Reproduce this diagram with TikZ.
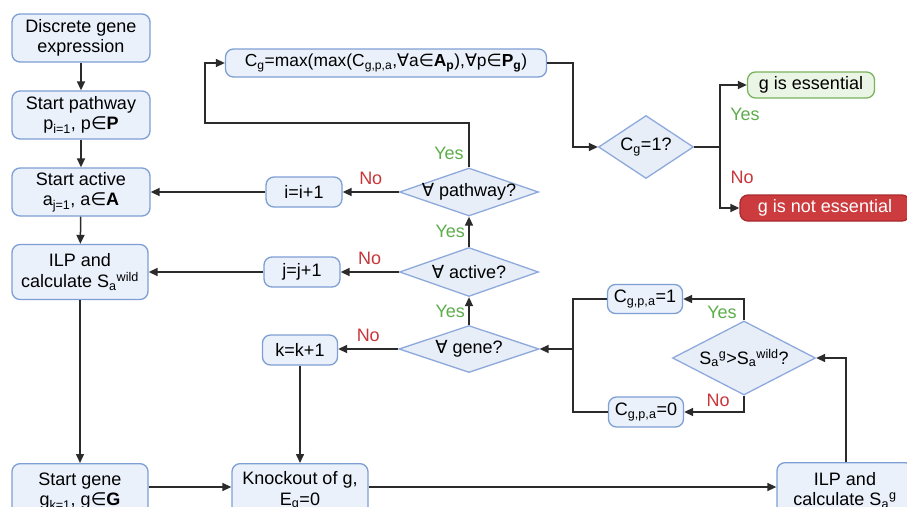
\documentclass[tikz,border=0pt]{standalone}
\usepackage{fontspec}
\setmainfont{Liberation Sans}
\newfontfamily\symf{DejaVu Sans}
\usetikzlibrary{arrows.meta,shapes.geometric,positioning}
\definecolor{boxfill}{HTML}{EAF1FB}
\definecolor{boxline}{HTML}{7E9FD4}
\definecolor{diafill}{HTML}{E7EEF8}
\definecolor{dialine}{HTML}{8EA9DB}
\definecolor{gfill}{HTML}{EBF5E5}
\definecolor{gline}{HTML}{79B35C}
\definecolor{rfill}{HTML}{CC3B3D}
\definecolor{rline}{HTML}{A82A2C}
\definecolor{yescol}{HTML}{5DAE4B}
\definecolor{nocol}{HTML}{C9363A}
\definecolor{linecol}{HTML}{2B2B2B}
\newcommand{\ele}{{\symf ∈}}
\newcommand{\fa}{{\symf ∀}}
\tikzset{
  every node/.style={font=\fontsize{18pt}{20.5pt}\selectfont, text=black},
  box/.style={draw=boxline, fill=boxfill, line width=1.3pt, rounded corners=8pt, align=center, inner sep=0pt},
  dia/.style={draw=dialine, fill=diafill, line width=1.3pt, diamond, inner sep=0pt},
  conn/.style={draw=linecol, line width=1.5pt, -{Triangle[length=9pt,width=8pt]}},
  plain/.style={draw=linecol, line width=1.5pt},
  yes/.style={text=yescol},
  no/.style={text=nocol},
}
\begin{document}
\begin{tikzpicture}[x=1pt,y=-1pt]
\useasboundingbox[fill=white] (0,0) rectangle (907,506);
% left column
\node[box, minimum width=138pt, minimum height=48pt] (deg) at (81,38) {Discrete gene\\expression};
\node[box, minimum width=138pt, minimum height=48pt] (sp) at (81,115) {Start pathway\\p\textsubscript{i=1}, p\ele\textbf{P}};
\node[box, minimum width=138pt, minimum height=48pt] (sa) at (81,192) {Start active\\a\textsubscript{j=1}, a\ele\textbf{A}};
\node[box, minimum width=136pt, minimum height=55pt] (ilpw) at (80,272) {ILP and\\calculate S\textsubscript{a}\textsuperscript{wild}};
\node[box, minimum width=136pt, minimum height=55pt, anchor=north] (sg) at (80,463) {Start gene\\g\textsubscript{k=1}, g\ele\textbf{G}};
\node[box, minimum width=136pt, minimum height=55pt, anchor=north] (ko) at (300,463) {Knockout of g,\\E\textsubscript{g}=0};
\node[box, minimum width=136pt, minimum height=55pt, anchor=north] (ilpg) at (845,462) {ILP and\\calculate S\textsubscript{a}\textsuperscript{g}};
% counters
\node[box, minimum width=76pt, minimum height=30pt] (ii) at (304,192) {i=i+1};
\node[box, minimum width=76pt, minimum height=30pt] (jj) at (302,272) {j=j+1};
\node[box, minimum width=75pt, minimum height=30pt] (kk) at (300,350) {k=k+1};
% diamonds
\node[dia, minimum width=139pt, minimum height=48pt, label={center:\fa{} pathway?}] (dpw) at (469,192) {};
\node[dia, minimum width=139pt, minimum height=49pt, label={center:\fa{} active?}] (dac) at (469,272) {};
\node[dia, minimum width=140pt, minimum height=47pt, label={center:\fa{} gene?}] (dge) at (469,349) {};
\node[dia, minimum width=143pt, minimum height=74pt, label={center:S\textsubscript{a}\textsuperscript{g}>S\textsubscript{a}\textsuperscript{wild}?}] (dsg) at (744,358) {};
\node[dia, minimum width=95pt, minimum height=63pt, label={center:C\textsubscript{g}=1?}] (dcg) at (646,147) {};
% C boxes
\node[box, minimum width=75pt, minimum height=29pt] (c1) at (645,299) {C\textsubscript{g,p,a}=1};
\node[box, minimum width=75pt, minimum height=30pt] (c0) at (646,412) {C\textsubscript{g,p,a}=0};
\node[box, minimum width=321pt, minimum height=28pt, font=\fontsize{17.4pt}{20pt}\selectfont] (cmax) at (386,63) {C\textsubscript{g}=max(max(C\textsubscript{g,p,a},\fa a\ele\textbf{A\textsubscript{p}}),\fa p\ele\textbf{P\textsubscript{g}})};
% outcomes
\node[draw=gline, fill=gfill, line width=1.3pt, rounded corners=8pt, minimum width=127pt, minimum height=26pt, inner sep=0pt] (ess) at (811,85) {g is essential};
\node[draw=rline, fill=rfill, line width=1.3pt, rounded corners=8pt, minimum width=170pt, minimum height=26pt, inner sep=0pt, text=white] (ness) at (825,208) {g is not essential};
% connectors
\draw[conn] (deg) -- (sp);
\draw[conn] (sp) -- (sa);
\draw[conn] (sa) -- (ilpw);
\draw[conn] (ilpw) -- (sg);
\draw[conn] (sg.east |- 0,487) -- (ko.west |- 0,487);
\draw[conn] (ko.east |- 0,487) -- (ilpg.west |- 0,487);
\draw[conn] (kk) -- (kk |- ko.north);
\draw[conn] (ii) -- (sa);
\draw[conn] (jj) -- (ilpw.east |- jj);
\draw[conn] (dpw.west) -- (ii.east |- dpw.west) node[midway, above=3pt, no]{No};
\draw[conn] (dac.west) -- (jj.east |- dac.west) node[midway, above=3pt, no]{No};
\draw[conn] (dge.west) -- (kk.east |- dge.west) node[midway, above=3pt, no]{No};
\draw[conn] (dac.north) -- (dpw.south) node[midway, left=0pt, yes]{Yes};
\draw[conn] (dge.north) -- (dac.south) node[midway, left=0pt, yes]{Yes};
\coordinate (pwup) at (469,123);
\coordinate (pwleft) at (205,123);
\draw[conn] (dpw.north) -- (pwup) -- (pwleft) -- (pwleft |- cmax) -- (cmax.west);
\node[yes] (ylab1) at (449,153) {Yes};
\coordinate (cmr) at (573,63);
\draw[conn] (cmax.east) -- (cmr) -- (cmr |- dcg) -- (dcg.west);
\coordinate (split) at (720,147);
\draw[plain] (dcg.east) -- (split);
\draw[conn] (split) -- (split |- ess) -- (ess.west);
\draw[conn] (split) -- (split |- ness) -- (ness.west);
\node[yes] (ylab2) at (745,114) {Yes};
\node[no] (nlab2) at (742,177) {No};
% S diamond loop
\coordinate (sgup) at (846,358);
\draw[conn] (ilpg.north -| sgup) -- (sgup) -- (dsg.east);
\draw[conn] (dsg.north) -- (dsg.north |- c1) -- (c1.east);
\draw[conn] (dsg.south) -- (dsg.south |- c0) -- (c0.east);
\node[yes] (ylab3) at (722,312) {Yes};
\node[no] (nlab3) at (718,400) {No};
\coordinate (cj) at (573,349);
\draw[plain] (c1.west) -- (c1.west -| cj) -- (c0.west -| cj) -- (c0.west);
\draw[conn] (cj) -- (dge.east);
\end{tikzpicture}
\end{document}
